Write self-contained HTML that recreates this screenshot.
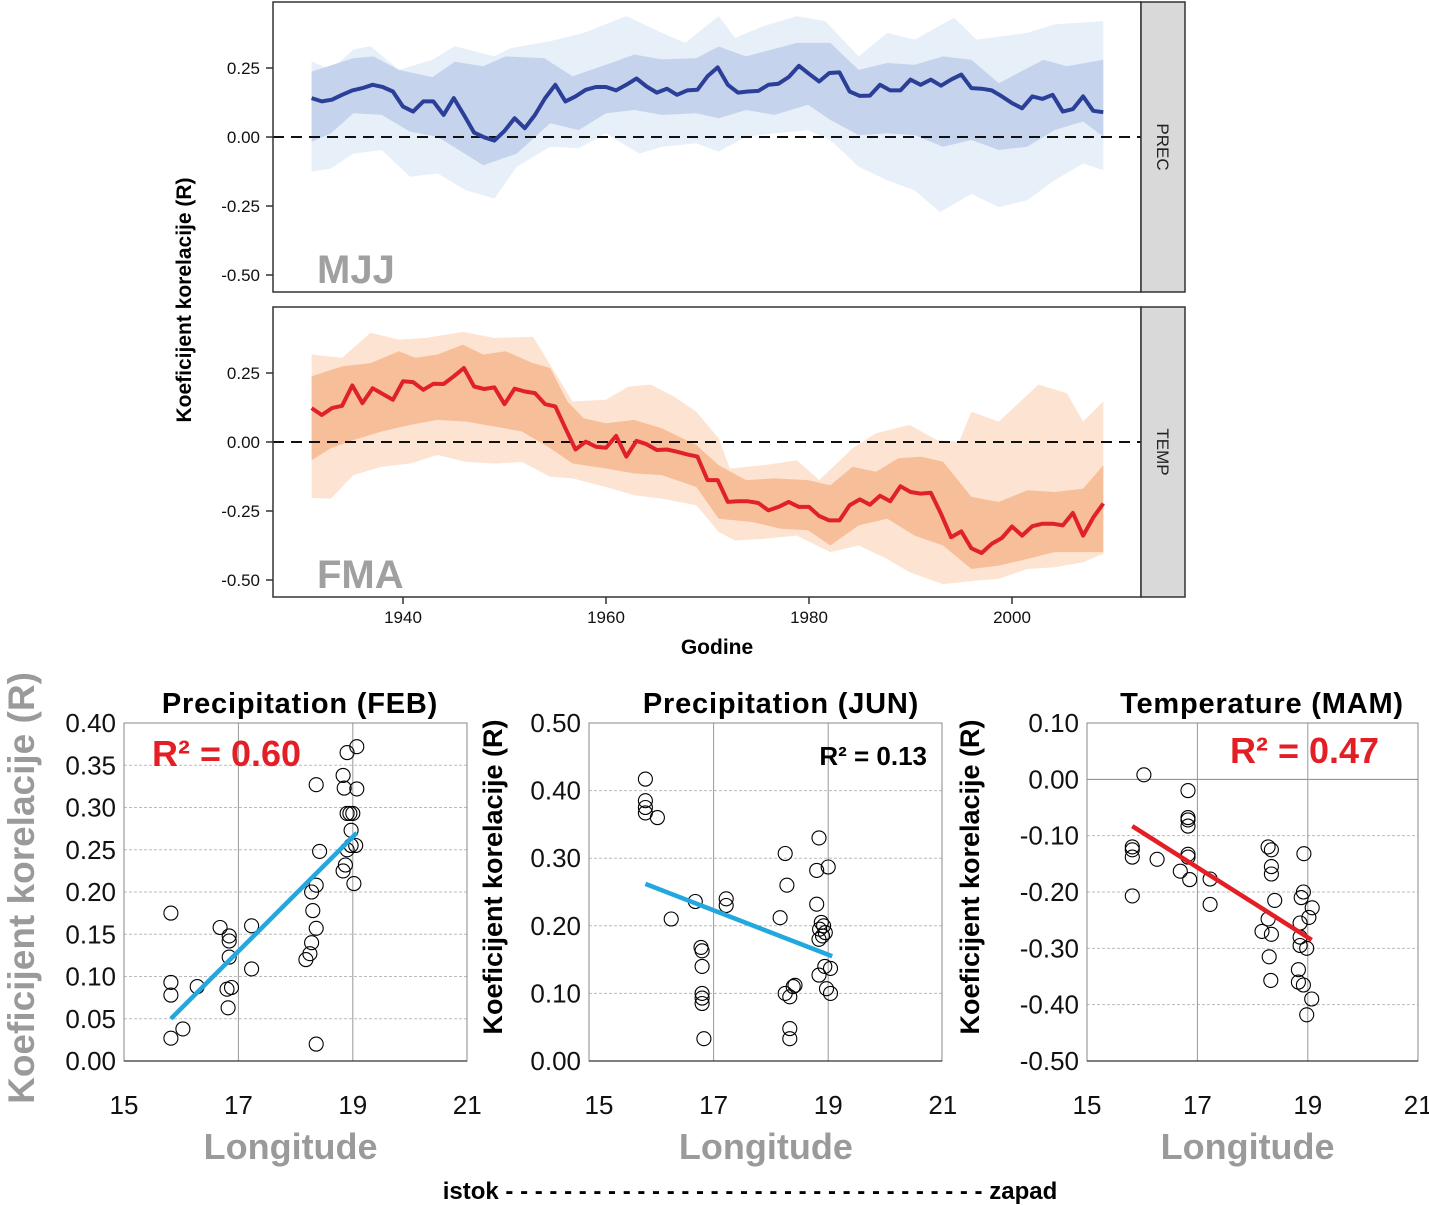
<!DOCTYPE html>
<html><head><meta charset="utf-8"><style>
html,body{margin:0;padding:0;background:#fff;}
svg{display:block;font-family:"Liberation Sans",sans-serif;}
</style></head><body>
<svg id="fig" width="1429" height="1205" viewBox="0 0 1429 1205" xmlns="http://www.w3.org/2000/svg"></svg>
<script>
// ===== time series data =====
const years = [];
for (let y = 1931; y <= 2009; y++) years.push(y);
const mjjLine = [0.141,0.129,0.135,0.153,0.169,0.177,0.189,0.181,0.165,0.110,0.092,0.129,0.129,0.080,0.141,0.080,0.016,-0.001,-0.013,0.022,0.068,0.032,0.080,0.141,0.189,0.129,0.147,0.171,0.181,0.181,0.169,0.189,0.212,0.183,0.161,0.175,0.153,0.169,0.171,0.220,0.252,0.189,0.161,0.165,0.167,0.189,0.193,0.217,0.258,0.229,0.201,0.232,0.234,0.165,0.149,0.150,0.189,0.169,0.169,0.208,0.189,0.208,0.186,0.208,0.226,0.177,0.175,0.169,0.147,0.123,0.104,0.147,0.138,0.153,0.092,0.101,0.147,0.095,0.090];
const mjjInnerUp = [[1931,.237],[1935.1,.286],[1937.1,.292],[1939.6,.243],[1942.9,.217],[1945.1,.273],[1947.9,.256],[1950.1,.292],[1953.9,.286],[1956.7,.220],[1960,.262],[1962.8,.299],[1965.5,.281],[1968.9,.286],[1971.1,.328],[1973.8,.292],[1978.8,.341],[1982.1,.341],[1984.9,.243],[1987.7,.268],[1990.4,.262],[1993.2,.292],[1996,.280],[1998.7,.195],[2003.1,.280],[2005.4,.256],[2009,.280]];
const mjjInnerLo = [[1931,-.017],[1932.9,.013],[1935.1,.086],[1937.9,.080],[1940.7,.019],[1943.4,.001],[1947.9,-.102],[1951.2,-.06],[1954.5,.05],[1957.3,.025],[1960,.086],[1962.8,.098],[1965.5,.080],[1968.9,.086],[1971.1,.068],[1973.8,.098],[1976.6,.080],[1979.9,.117],[1982.1,.062],[1984.9,.007],[1987.7,.013],[1990.4,.007],[1993.2,-.035],[1996,-.011],[1998.7,-.047],[2001.5,-.035],[2004.2,.025],[2007,.056],[2009,.001]];
const mjjOuterUp = [[1931,.274],[1932.9,.243],[1935.1,.317],[1936.8,.329],[1939.6,.243],[1942.9,.280],[1945.1,.329],[1949,.292],[1950.6,.322],[1954.5,.347],[1957.8,.377],[1962,.438],[1965.5,.377],[1967.8,.341],[1971.1,.438],[1972.7,.359],[1975.5,.401],[1978.8,.438],[1981.6,.420],[1984.9,.292],[1987.7,.377],[1990.4,.353],[1994.3,.432],[1996.5,.353],[2001.5,.377],[2004.2,.408],[2009,.420]];
const mjjOuterLo = [[1931,-.126],[1932.9,-.114],[1935.1,-.06],[1937.9,-.047],[1940.7,-.144],[1943.4,-.132],[1946.2,-.193],[1949,-.223],[1951.2,-.108],[1954.5,-.035],[1957.3,-.041],[1960,.013],[1963.3,-.06],[1965.5,-.035],[1968.9,-.023],[1971.1,-.053],[1973.8,.001],[1976.6,.013],[1979.9,.025],[1982.1,-.011],[1984.9,-.108],[1987.7,-.157],[1990.4,-.193],[1992.9,-.272],[1996,-.206],[1998.7,-.254],[2001.5,-.229],[2004.2,-.157],[2007,-.096],[2009,-.120]];
const fmaLine = [0.123,0.098,0.123,0.131,0.205,0.141,0.195,0.174,0.153,0.220,0.217,0.189,0.211,0.210,0.238,0.268,0.201,0.192,0.198,0.137,0.193,0.183,0.177,0.137,0.129,0.050,-0.027,0.001,-0.017,-0.021,0.022,-0.053,0.004,-0.008,-0.029,-0.027,-0.035,-0.045,-0.053,-0.138,-0.138,-0.217,-0.215,-0.215,-0.221,-0.248,-0.235,-0.217,-0.235,-0.235,-0.268,-0.284,-0.284,-0.229,-0.208,-0.227,-0.195,-0.215,-0.160,-0.181,-0.187,-0.184,-0.260,-0.345,-0.324,-0.385,-0.402,-0.369,-0.348,-0.306,-0.339,-0.305,-0.296,-0.296,-0.302,-0.257,-0.339,-0.274,-0.223];
const fmaInnerUp = [[1931,.238],[1934,.274],[1936.8,.286],[1939.6,.329],[1941.2,.305],[1943.4,.317],[1945.9,.353],[1947.9,.317],[1950.1,.329],[1952.8,.286],[1954.5,.268],[1956.2,.147],[1957.8,.086],[1960,.068],[1962.8,.080],[1965.5,.050],[1968.9,-.011],[1971.1,-.084],[1973.8,-.138],[1976.6,-.132],[1979.9,-.138],[1982.1,-.157],[1984.3,-.090],[1986.6,-.108],[1988.8,-.059],[1991,-.053],[1993.2,-.071],[1996,-.199],[1998.7,-.217],[2001.5,-.175],[2004.2,-.181],[2007,-.169],[2009,-.084]];
const fmaInnerLo = [[1931,-.066],[1932.9,-.023],[1935.1,.007],[1937.9,.038],[1940.7,.062],[1943.4,.080],[1946.2,.074],[1949,.056],[1951.7,.038],[1954.5,-.023],[1956.7,-.078],[1960,-.096],[1962.8,-.114],[1965.5,-.120],[1968.9,-.163],[1971.1,-.278],[1974.4,-.290],[1977.2,-.314],[1979.9,-.320],[1982.1,-.375],[1984.9,-.302],[1987.7,-.278],[1990.4,-.339],[1993.2,-.375],[1996,-.460],[1998.7,-.448],[2001.5,-.424],[2004.2,-.399],[2007,-.399],[2009,-.399]];
const fmaOuterUp = [[1931,.317],[1934,.305],[1936.8,.396],[1939.6,.371],[1942.3,.377],[1945.9,.399],[1949,.377],[1952.8,.381],[1954.5,.280],[1956.7,.147],[1960,.153],[1962.2,.201],[1964.4,.208],[1966.7,.165],[1968.9,.110],[1971.1,.013],[1972.2,-.096],[1975.5,-.084],[1978.8,-.066],[1981,-.138],[1984.3,-.023],[1986.6,.032],[1989.9,.062],[1992.6,.007],[1994.8,.001],[1996,.110],[1998.7,.074],[2002.6,.208],[2005.4,.177],[2007,.074],[2009,.147]];
const fmaOuterLo = [[1931,-.203],[1932.9,-.205],[1935.1,-.120],[1937.9,-.090],[1940.7,-.078],[1943.4,-.047],[1946.2,-.072],[1949,-.078],[1951.7,-.072],[1954.5,-.126],[1956.7,-.132],[1960,-.163],[1962.8,-.193],[1965.5,-.205],[1968.9,-.229],[1971.1,-.326],[1972.7,-.357],[1975.5,-.351],[1978.8,-.339],[1982.1,-.399],[1984.9,-.375],[1987.7,-.424],[1989.9,-.472],[1993.2,-.515],[1996.5,-.502],[1998.7,-.496],[2001.5,-.460],[2004.2,-.454],[2007,-.436],[2009,-.405]];
const tsYTicks = [0.25, 0.00, -0.25, -0.50];
const tsYTickLabels = ["0.25","0.00","-0.25","-0.50"];
const tsXTicks = [1940, 1960, 1980, 2000];

// ===== scatter data =====
const febLon = [15.82,15.82,15.82,15.82,16.03,16.28,16.68,16.84,16.84,16.84,16.8,16.88,16.82,17.23,17.23,18.18,18.25,18.28,18.28,18.36,18.3,18.36,18.36,18.36,18.42,18.83,18.9,19.07,18.85,19.07,18.9,18.95,19.0,18.97,18.9,18.97,19.05,18.87,18.83,19.02];
const febR = [0.175,0.093,0.078,0.027,0.038,0.088,0.158,0.148,0.142,0.123,0.085,0.087,0.063,0.160,0.109,0.120,0.127,0.140,0.200,0.208,0.178,0.157,0.020,0.327,0.248,0.338,0.365,0.372,0.323,0.322,0.293,0.293,0.293,0.273,0.250,0.255,0.255,0.232,0.225,0.210];
const febFit = [[15.82,0.050],[19.07,0.270]];
const junLon = [15.81,15.81,15.81,15.81,16.02,16.26,16.68,16.78,16.8,16.8,16.8,16.8,16.8,16.83,17.22,17.22,18.16,18.25,18.28,18.25,18.33,18.33,18.33,18.39,18.42,18.84,18.8,19.0,18.8,18.88,18.85,18.92,18.95,18.9,18.84,18.84,18.94,19.04,18.97,19.04];
const junR = [0.417,0.385,0.375,0.367,0.360,0.210,0.236,0.168,0.163,0.140,0.100,0.093,0.085,0.033,0.240,0.230,0.212,0.307,0.260,0.100,0.095,0.048,0.033,0.110,0.112,0.330,0.282,0.287,0.232,0.205,0.195,0.200,0.190,0.185,0.180,0.127,0.140,0.137,0.107,0.100];
const junFit = [[15.81,0.262],[19.07,0.155]];
const mamLon = [16.03,15.82,15.82,15.82,15.82,16.27,16.69,16.83,16.83,16.83,16.83,16.83,16.83,16.86,17.23,17.23,18.28,18.28,18.34,18.34,18.34,18.17,18.34,18.4,18.3,18.33,18.93,18.92,18.88,18.86,18.86,18.86,18.83,18.83,18.92,18.98,19.07,18.98,19.02,19.08];
const mamR = [0.008,-0.120,-0.125,-0.138,-0.207,-0.142,-0.163,-0.020,-0.068,-0.072,-0.083,-0.133,-0.138,-0.178,-0.177,-0.222,-0.120,-0.248,-0.125,-0.155,-0.168,-0.270,-0.275,-0.215,-0.315,-0.357,-0.132,-0.200,-0.210,-0.255,-0.280,-0.295,-0.338,-0.360,-0.365,-0.418,-0.390,-0.300,-0.245,-0.228];
const mamFit = [[15.82,-0.083],[19.07,-0.285]];
const lonTicks = [15, 17, 19, 21];

// ===== helpers =====
const NS = "http://www.w3.org/2000/svg";
const svg = document.getElementById("fig");
function mk(tag, attrs, parent) {
  const e = document.createElementNS(NS, tag);
  for (const k in attrs) e.setAttribute(k, attrs[k]);
  (parent || svg).appendChild(e);
  return e;
}
function txt(s, attrs, parent) { const e = mk("text", attrs, parent); e.textContent = s; return e; }

const tsX = y => 403 + (y - 1940) * 10.15;

function tsPanel(top, name, line, iu, il, ou, ol, cIn, cOut, cLine, label, strip) {
  const y0 = top + 135;
  const Y = v => y0 - v * 276;
  const g = mk("g", {});
  
  
  const clip = mk("clipPath", {id: "c" + name}, g);
  mk("rect", {x: 273, y: top, width: 868, height: 290}, clip);
  const inner = mk("g", {"clip-path": "url(#c" + name + ")"}, g);
  function band(up, lo, fill, nm) {
    let d = up.map((p, i) => (i ? "L" : "M") + tsX(p[0]).toFixed(1) + "," + Y(p[1]).toFixed(1)).join("");
    d += lo.slice().reverse().map(p => "L" + tsX(p[0]).toFixed(1) + "," + Y(p[1]).toFixed(1)).join("") + "Z";
    const p = mk("path", {d: d, fill: fill}, inner);
    
    
  }
  band(ou, ol, cOut, name + '-outer-band');
  band(iu, il, cIn, name + '-inner-band');
  const zl = mk("line", {x1: 273, x2: 1141, y1: Y(0), y2: Y(0), stroke: "#111", "stroke-width": 2, "stroke-dasharray": "11,7"}, inner);
  
  
  const pl = mk("polyline", {points: line.map((v, i) => tsX(years[i]).toFixed(1) + "," + Y(v).toFixed(1)).join(" "), fill: "none", stroke: cLine, "stroke-width": 4, "stroke-linejoin": "round"}, inner);
  
  
  const lb = txt(label, {x: 317, y: top + 281, "font-size": 40, "font-weight": "bold", fill: "#a0a0a0"}, g);
  
  
  const fr = mk("rect", {x: 273, y: top, width: 868, height: 290, fill: "none", stroke: "#333", "stroke-width": 1.5}, g);
  
  
  const st = mk("rect", {x: 1141, y: top, width: 44, height: 290, fill: "#d9d9d9", stroke: "#333", "stroke-width": 1.5}, g);
  
  
  const stt = txt(strip, {x: 0, y: 0, "font-size": 17, fill: "#222", "text-anchor": "middle", transform: "translate(1157," + (top + 145) + ") rotate(90)"}, g);
  
  
  tsYTicks.forEach((t, i) => {
    mk("line", {x1: 266, x2: 273, y1: Y(t), y2: Y(t), stroke: "#333", "stroke-width": 1.5}, g);
    const tl = txt(tsYTickLabels[i], {x: 260, y: Y(t) + 6, "font-size": 17, "text-anchor": "end", fill: "#111"}, g);
    
    
  });
}
tsPanel(2, "prec", mjjLine, mjjInnerUp, mjjInnerLo, mjjOuterUp, mjjOuterLo, "#c5d4ec", "#e7eff9", "#2b3f98", "MJJ", "PREC");
tsPanel(307, "temp", fmaLine, fmaInnerUp, fmaInnerLo, fmaOuterUp, fmaOuterLo, "#f7bf99", "#fde4d2", "#e0202a", "FMA", "TEMP");
tsXTicks.forEach(t => {
  mk("line", {x1: tsX(t), x2: tsX(t), y1: 597, y2: 604, stroke: "#333", "stroke-width": 1.5});
  const tl = txt(String(t), {x: tsX(t), y: 623, "font-size": 17, "text-anchor": "middle", fill: "#111"});
  
  
});
const xt = txt("Godine", {x: 717, y: 654, "font-size": 21, "font-weight": "bold", "text-anchor": "middle", fill: "#000"});


const yt = txt("Koeficijent korelacije (R)", {x: 0, y: 0, "font-size": 21, "font-weight": "bold", "text-anchor": "middle", fill: "#000", transform: "translate(191,300) rotate(-90)"});



function scatter(o) {
  const X = v => o.x15 + (v - 15) * o.ppu;
  const Y = v => 1061 - (v - o.ymin) / (o.ymax - o.ymin) * 338;
  const g = mk("g", {});
  
  
  o.yTicks.forEach(t => {
    if (t !== o.ymin && t !== o.ymax) {
      mk("line", {x1: o.left, x2: o.right, y1: Y(t), y2: Y(t), stroke: t === 0 && o.solidZero ? "#888" : "#bbb", "stroke-width": 1, "stroke-dasharray": t === 0 && o.solidZero ? "" : "3,2"}, g);
    }
    const tl = txt(t.toFixed(2), {x: o.left - 8, y: Y(t) + 9, "font-size": 26, "text-anchor": "end", fill: "#111"}, g);
    
    
  });
  [17, 19].forEach(t => mk("line", {x1: X(t), x2: X(t), y1: 723, y2: 1061, stroke: "#999", "stroke-width": 1}, g));
  mk("rect", {x: o.left, y: 723, width: o.right - o.left, height: 338, fill: "none", stroke: "#888", "stroke-width": 1}, g);
  mk("line", {x1: o.left, x2: o.right, y1: 1061, y2: 1061, stroke: "#333", "stroke-width": 1.2}, g);
  lonTicks.forEach(t => {
    const tl = txt(String(t), {x: X(t), y: 1114, "font-size": 26, "text-anchor": "middle", fill: "#111"}, g);
    
    
  });
  o.lon.forEach((lv, i) => {
    const c = mk("circle", {cx: X(lv).toFixed(1), cy: Y(o.r[i]).toFixed(1), r: 7, fill: "none", stroke: "#000", "stroke-width": 1.1}, g);
    
    
  });
  const fl = mk("line", {x1: X(o.fit[0][0]), y1: Y(o.fit[0][1]), x2: X(o.fit[1][0]), y2: Y(o.fit[1][1]), stroke: o.fitColor, "stroke-width": 4.5}, g);
  
  
  const tt = txt(o.title, {x: o.titleX, y: 713, "font-size": 29, "font-weight": "bold", "text-anchor": "middle", fill: "#000", "letter-spacing": "0.8"}, g);
  
  
  const r2 = mk("text", {x: o.r2x, y: o.r2y, "font-size": o.r2size, "font-weight": "bold", fill: o.r2color, "text-anchor": o.r2anchor}, g);
  r2.textContent = "R² = " + o.r2;
  
  
  const lt = txt("Longitude", {x: (X(15) + X(21)) / 2 - 5, y: 1159, "font-size": 36, "font-weight": "bold", "text-anchor": "middle", fill: "#9a9a9a"}, g);
  
  
  const yl = txt(o.yTitle.t, {x: 0, y: 0, "font-size": o.yTitle.s, "font-weight": "bold", "text-anchor": "middle", fill: o.yTitle.c, transform: "translate(" + o.yTitle.x + "," + o.yTitle.y + ") rotate(-90)"}, g);
  
  
}
scatter({name: "feb", x15: 124, ppu: 57.2, left: 124, right: 467, ymin: 0, ymax: 0.40, yTicks: [0,0.05,0.10,0.15,0.20,0.25,0.30,0.35,0.40],
  lon: febLon, r: febR, fit: febFit, fitColor: "#22a8df", title: "Precipitation (FEB)", titleX: 300,
  r2: "0.60", r2x: 152, r2y: 766, r2size: 36, r2color: "#e31e24", r2anchor: "start",
  yTitle: {t: "Koeficijent korelacije (R)", s: 37, c: "#9a9a9a", x: 34, y: 888}});
scatter({name: "jun", x15: 599, ppu: 57.3, left: 589, right: 942, ymin: 0, ymax: 0.50, yTicks: [0,0.10,0.20,0.30,0.40,0.50],
  lon: junLon, r: junR, fit: junFit, fitColor: "#22a8df", title: "Precipitation (JUN)", titleX: 781,
  r2: "0.13", r2x: 927, r2y: 765, r2size: 26, r2color: "#000", r2anchor: "end",
  yTitle: {t: "Koeficijent korelacije (R)", s: 27, c: "#000", x: 502, y: 877}});
scatter({name: "mam", x15: 1087, ppu: 55.2, left: 1087, right: 1418, ymin: -0.5, ymax: 0.10, yTicks: [-0.5,-0.4,-0.3,-0.2,-0.1,0,0.1], solidZero: true,
  lon: mamLon, r: mamR, fit: mamFit, fitColor: "#e31e24", title: "Temperature (MAM)", titleX: 1262,
  r2: "0.47", r2x: 1230, r2y: 763, r2size: 36, r2color: "#e31e24", r2anchor: "start",
  yTitle: {t: "Koeficijent korelacije (R)", s: 27, c: "#000", x: 979, y: 877}});

const cap = txt("istok - - - - - - - - - - - - - - - - - - - - - - - - - - - - - - - - - zapad", {x: 750, y: 1199, "font-size": 24, "font-weight": "bold", "text-anchor": "middle", fill: "#000"});


</script>
</body></html>
